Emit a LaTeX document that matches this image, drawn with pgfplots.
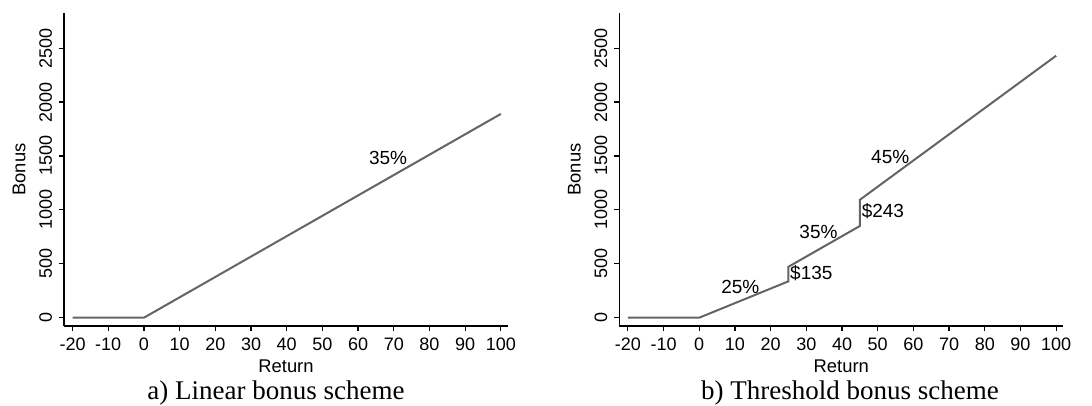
\documentclass[border=0pt]{standalone}
\usepackage{pgfplots}
\pgfplotsset{compat=1.18}
\usepackage{fontspec}
\setmainfont{Liberation Sans}
\newfontfamily\capfont{Liberation Serif}
\definecolor{linegray}{RGB}{100,100,100}
\pgfplotsset{
 bonusaxis/.style={
  scale only axis, width=222pt, height=156.5pt,
  xmin=-22.4, xmax=102, ymin=-77, ymax=2826,
  axis lines=left, axis line style={-, line width=0.7pt},
  tick align=outside, major tick length=2.5pt, tick style={black, line width=0.6pt},
  xtick={-20,-10,...,100}, ytick={0,500,...,2500},
  scaled ticks=false,
  /pgf/number format/assume math mode=true,
  /pgf/number format/1000 sep={},
  ticklabel style={font=\fontsize{9}{11}\selectfont},
  yticklabel style={rotate=90, anchor=south},
  label style={font=\fontsize{9.2}{11}\selectfont},
  xlabel style={yshift=2.5pt},
  xlabel=Return, ylabel=Bonus,
  clip=false,
 }
}
\begin{document}
\begin{tikzpicture}
\useasboundingbox (-32pt,-40pt) rectangle (514pt,163pt);
\begin{axis}[bonusaxis, at={(0pt,0pt)}, anchor=south west]
\addplot[color=linegray, line width=1pt] coordinates {(-20,0) (0,0) (100,1890)};
\node[font=\fontsize{9.5}{11}\selectfont] at (axis cs:68.4,1483) {35\%};
\end{axis}
\begin{axis}[bonusaxis, at={(277.65pt,0pt)}, anchor=south west]
\addplot[color=linegray, line width=1pt] coordinates {(-20,0) (0,0) (25,337.5) (25,472.5) (45,850.5) (45,1093.5) (100,2430)};
\node[font=\fontsize{9.5}{11}\selectfont] at (axis cs:11.5,288) {25\%};
\node[font=\fontsize{9.5}{11}\selectfont] at (axis cs:31.4,412) {\$135};
\node[font=\fontsize{9.5}{11}\selectfont] at (axis cs:33.4,791) {35\%};
\node[font=\fontsize{9.5}{11}\selectfont] at (axis cs:51.45,993) {\$243};
\node[font=\fontsize{9.5}{11}\selectfont] at (axis cs:53.5,1495) {45\%};
\end{axis}
\node[anchor=base, font=\capfont\fontsize{13.5}{15}\selectfont] at (106pt,-37pt) {a) Linear bonus scheme};
\node[anchor=base, font=\capfont\fontsize{13.5}{15}\selectfont] at (393pt,-37pt) {b) Threshold bonus scheme};
\end{tikzpicture}
\end{document}
